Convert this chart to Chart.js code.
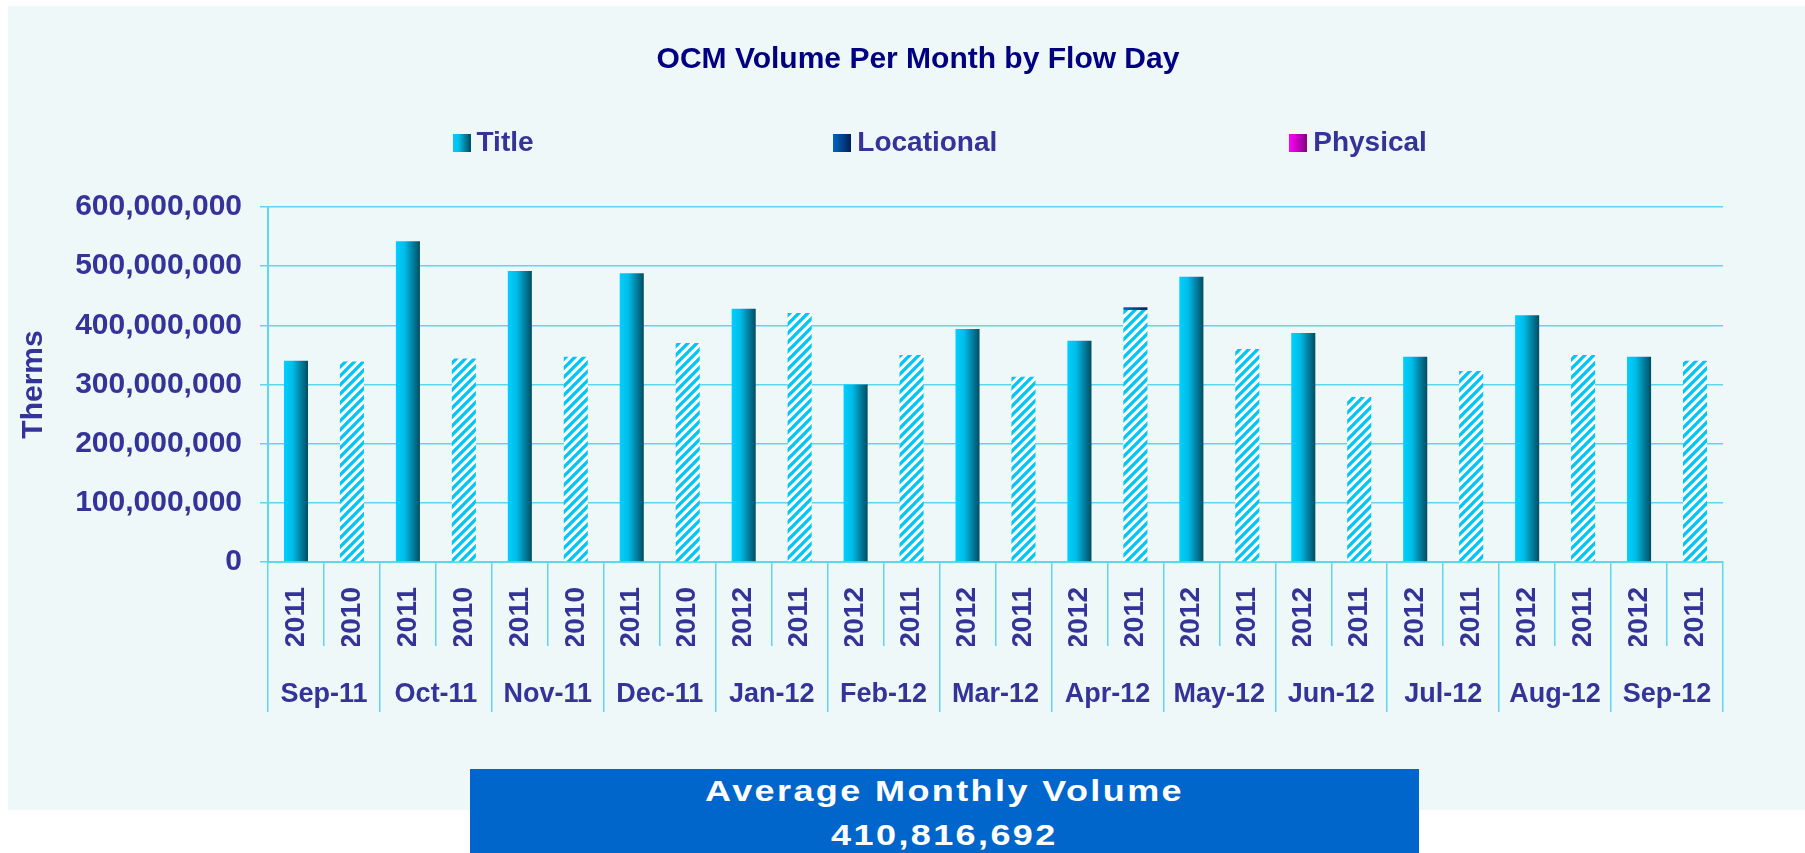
<!DOCTYPE html>
<html>
<head>
<meta charset="utf-8">
<script src="https://cdn.jsdelivr.net/npm/chart.js@4.4.1/dist/chart.umd.min.js"></script>
<style>
  html, body { margin: 0; padding: 0; background: #fff; overflow: hidden; }
  body { width: 1805px; height: 853px; position: relative; font-family: "Liberation Sans", Arial, sans-serif; }
  #panel { position: absolute; left: 8px; top: 6px; width: 1797px; height: 804px; background: #EFF8F9; overflow: hidden; }
  #chart { position: absolute; left: 0; top: 0; }
  #avgBox { position: absolute; left: 470px; top: 769px; width: 949px; height: 84px; background: #0066CC; color: #fff;
            font-weight: bold; font-size: 30px; line-height: 44px; text-align: center; }
  #avgBox span { display: inline-block; letter-spacing: 2px; transform: scaleX(1.2); }
</style>
</head>
<body>
<div id="panel"><canvas id="chart" width="1820" height="804"></canvas></div>
<div id="avgBox"><div><span id="avgLabel"></span></div><div><span id="avgValue"></span></div></div>
<script>
// month groups (outer axis) and the year of each bar (inner axis)
const months = ["Sep-11", "Oct-11", "Nov-11", "Dec-11", "Jan-12", "Feb-12", "Mar-12",
                "Apr-12", "May-12", "Jun-12", "Jul-12", "Aug-12", "Sep-12"];
const years = ["2011", "2010", "2011", "2010", "2011", "2010", "2011", "2010", "2012", "2011",
               "2012", "2011", "2012", "2011", "2012", "2011", "2012", "2011", "2012", "2011",
               "2012", "2011", "2012", "2011", "2012", "2011"];

const titleVolume = [340000000, 339000000, 542000000, 344000000, 492000000, 347000000,
                     488000000, 370000000, 428000000, 421000000, 300000000, 350000000,
                     394000000, 313000000, 374000000, 426000000, 482000000, 360000000,
                     387000000, 279000000, 347000000, 323000000, 417000000, 350000000,
                     347000000, 340000000];
const locationalVolume = [0, 0, 0, 0, 0, 0, 0, 0, 0, 0, 0, 0, 0, 0, 0, 4500000,
                          0, 0, 0, 0, 0, 0, 0, 0, 0, 0];
const physicalVolume = [0, 0, 0, 0, 0, 0, 0, 0, 0, 0, 0, 0, 0, 0, 0, 0,
                        0, 0, 0, 0, 0, 0, 0, 0, 0, 0];

const seriesNames = ["Title", "Locational", "Physical"];
const yTicksMax = 600000000;
const yTickStep = 100000000;

const averageLabel = "Average Monthly Volume";
const averageValue = 410816692;

const FONT = "'Liberation Sans', Arial, sans-serif";
const TEXT = "#333399";
const GRID = "#5ED6F0";
const BAR_PCT = 0.43;

const TITLE_STOPS = [[0, "#00CFFF"], [0.35, "#00BEEA"], [1, "#004C62"]];
const LOC_STOPS = [[0, "#0066C4"], [1, "#001E55"]];
const PHYS_STOPS = [[0, "#FF00FF"], [1, "#85007F"]];

document.getElementById("avgLabel").textContent = averageLabel;
document.getElementById("avgValue").textContent = averageValue.toLocaleString("en-US");

const canvas = document.getElementById("chart");
const ctx = canvas.getContext("2d");

function makeHatch() {
    const s = 9;
    const c = document.createElement("canvas");
    c.width = s; c.height = s;
    const g = c.getContext("2d");
    g.fillStyle = "#ffffff";
    g.fillRect(0, 0, s, s);
    g.strokeStyle = "#00C6F5";
    g.lineWidth = 3.3;
    g.beginPath();
    g.moveTo(-2, s + 2); g.lineTo(s + 2, -2);
    g.moveTo(-2, 2); g.lineTo(2, -2);
    g.moveTo(s - 2, s + 2); g.lineTo(s + 2, s - 2);
    g.stroke();
    return ctx.createPattern(c, "repeat");
}
const hatch = makeHatch();

function markerImage(stops) {
    const c = document.createElement("canvas");
    c.width = 18; c.height = 18;
    const g = c.getContext("2d");
    if (stops) {
        const gr = g.createLinearGradient(0, 0, 18, 0);
        stops.forEach(([o, col]) => gr.addColorStop(o, col));
        g.fillStyle = gr;
        g.fillRect(0, 0, 18, 18);
    }
    return c;
}
const markers = [markerImage(TITLE_STOPS), markerImage(LOC_STOPS), markerImage(PHYS_STOPS)];
const blankMarker = markerImage(null);

// horizontal gradient across one bar, positioned from the x scale
function barGradient(c, stops, fallback) {
    const chart = c.chart;
    const sx = chart.scales.x;
    if (!chart.chartArea || !sx || c.dataIndex === undefined) return fallback;
    const cx = sx.getPixelForValue(c.dataIndex);
    const half = sx.width / years.length * BAR_PCT / 2;
    const g = chart.ctx.createLinearGradient(cx - half, 0, cx + half, 0);
    stops.forEach(([o, col]) => g.addColorStop(o, col));
    return g;
}

// legend spacing: invisible padding so the three entries sit where the original has them
const LEGEND_FONT = { size: 28, weight: "bold", family: FONT };
const legendGaps = [331, 313, 386, 0];

function padText(t, target) {
    if (!target) return t;
    ctx.save();
    ctx.font = "bold 28px " + FONT;
    const sp = ctx.measureText(" ").width;
    const n = Math.max(0, Math.round((target - ctx.measureText(t).width) / sp));
    ctx.restore();
    return t + " ".repeat(n);
}

new Chart(ctx, {
    type: "bar",
    data: {
        labels: years,
        datasets: [
            {
                label: seriesNames[0],
                data: titleVolume,
                backgroundColor: c => (c.dataIndex % 2 === 1 ? hatch : barGradient(c, TITLE_STOPS, "#00B4E0")),
                borderWidth: 0
            },
            {
                label: seriesNames[1],
                data: locationalVolume,
                backgroundColor: c => barGradient(c, LOC_STOPS, "#00429A"),
                borderWidth: 0
            },
            {
                label: seriesNames[2],
                data: physicalVolume,
                backgroundColor: c => barGradient(c, PHYS_STOPS, "#CC00CC"),
                borderWidth: 0
            }
        ]
    },
    options: {
        responsive: false,
        animation: false,
        events: [],
        layout: { padding: { left: 0, right: 0, top: 0, bottom: 98 } },
        datasets: { bar: { barPercentage: BAR_PCT, categoryPercentage: 1 } },
        plugins: {
            tooltip: { enabled: false },
            title: {
                display: true,
                text: "OCM Volume Per Month by Flow Day",
                color: "#000080",
                font: { size: 30, weight: "bold", family: FONT, lineHeight: 1.2 },
                padding: { top: 36, bottom: 0 }
            },
            legend: {
                display: true,
                position: "top",
                align: "start",
                labels: {
                    usePointStyle: true,
                    boxWidth: 2,
                    padding: 51,
                    color: TEXT,
                    font: LEGEND_FONT,
                    generateLabels: () => {
                        const items = [{
                            text: padText("", legendGaps[0]),
                            fillStyle: "rgba(0,0,0,0)", strokeStyle: "rgba(0,0,0,0)", lineWidth: 0,
                            pointStyle: blankMarker, hidden: false, rotation: 0, fontColor: TEXT
                        }];
                        seriesNames.forEach((name, i) => items.push({
                            text: padText(name, legendGaps[i + 1]),
                            fillStyle: "rgba(0,0,0,0)", strokeStyle: "rgba(0,0,0,0)", lineWidth: 0,
                            pointStyle: markers[i], hidden: false, rotation: 0, datasetIndex: i,
                            fontColor: TEXT
                        }));
                        return items;
                    }
                }
            },
            // empty spacer between legend and plot
            subtitle: {
                display: true,
                text: "",
                position: "top",
                weight: 500,
                font: { size: 10, lineHeight: 1 },
                padding: { top: 30, bottom: 0 }
            }
        },
        scales: {
            x: {
                type: "category",
                stacked: true,
                position: "bottom",
                weight: 0,
                offset: true,
                grid: { offset: true, drawOnChartArea: false, tickLength: 84, color: GRID, lineWidth: 1.5 },
                border: { display: true, color: GRID, width: 2 },
                ticks: {
                    autoSkip: false, minRotation: 90, maxRotation: 90,
                    padding: -59, color: TEXT,
                    font: { size: 28, weight: "bold", family: FONT }
                },
                afterFit: s => { s.height = 84; }
            },
            x2: {
                type: "category",
                labels: months,
                position: "bottom",
                weight: 1,
                offset: true,
                grid: { offset: true, drawOnChartArea: false, tickLength: 66, color: GRID, lineWidth: 1.5 },
                border: { display: false },
                ticks: {
                    autoSkip: false, minRotation: 0, maxRotation: 0,
                    padding: -34, color: TEXT,
                    font: { size: 27, weight: "bold", family: FONT }
                },
                afterFit: s => { s.height = 66; }
            },
            y: {
                stacked: true,
                position: "left",
                min: 0,
                max: yTicksMax,
                grid: { color: GRID, lineWidth: 1.5, tickLength: 8 },
                border: { color: GRID, width: 2 },
                ticks: {
                    stepSize: yTickStep,
                    padding: 18,
                    color: TEXT,
                    font: { size: 30, weight: "bold", family: FONT },
                    callback: v => Number(v).toLocaleString("en-US")
                },
                title: {
                    display: true,
                    text: "Therms",
                    color: TEXT,
                    font: { size: 30, weight: "bold", family: FONT },
                    padding: { top: 8, bottom: 0 }
                },
                afterFit: s => { s.width = 260; }
            },
            // keeps the plot's right edge where the original has it
            yRight: {
                type: "linear",
                position: "right",
                display: true,
                grid: { display: false },
                border: { display: false },
                ticks: { display: false },
                afterFit: s => { s.width = 105; }
            }
        }
    }
});
</script>
</body>
</html>
